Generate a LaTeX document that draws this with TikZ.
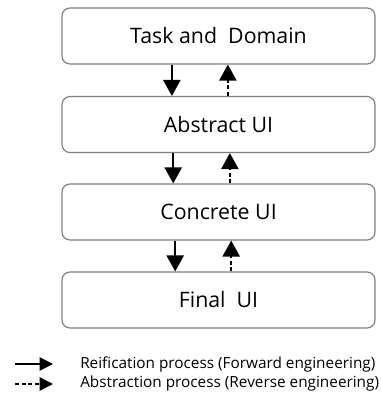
\documentclass[tikz,border=0pt]{standalone}
\usepackage{fontspec}
\setmainfont{Open Sans}
\usetikzlibrary{arrows.meta,positioning}
\tikzset{
  layerbox/.style = { shape=rectangle, rounded corners = 6pt, draw = black!50, line width = 0.9pt, minimum width = 234.75pt, minimum height = 42pt, font = \fontsize{16}{18}\selectfont },
  reify/.style = { -{Triangle[width=13pt,length=12pt]}, line width = 1.1pt, black },
  abstr/.style = { reify, dash pattern = on 3pt off 2pt },
  legendtext/.style = { anchor = west, inner sep = 0pt, font = \fontsize{11.5}{13}\selectfont }
}
\begin{document}
\begin{tikzpicture}
  \useasboundingbox (0,0) rectangle (285pt,297pt);
  % the four layers
  \node (nTaskDomain) [ layerbox ] at (163.9pt,270pt) {Task and~ Domain};
  \node (nAbstractUi) [ layerbox, below of = nTaskDomain, node distance = 66.4pt ] {Abstract UI};
  \node (nConcreteUi) [ layerbox, below of = nAbstractUi, node distance = 65.6pt ] {Concrete UI};
  \node (nFinalUi) [ layerbox, below of = nConcreteUi, node distance = 66pt ] {Final~ UI};
  % forward and reverse arrows between the layers
  \draw [reify] ([xshift=-35pt]nTaskDomain.south) -- ([xshift=-35pt]nAbstractUi.north);
  \draw [abstr] ([xshift=7pt]nAbstractUi.north) -- ([xshift=7pt]nTaskDomain.south);
  \draw [reify] ([xshift=-34pt]nAbstractUi.south) -- ([xshift=-34pt]nConcreteUi.north);
  \draw [abstr] ([xshift=8.5pt]nConcreteUi.north) -- ([xshift=8.5pt]nAbstractUi.south);
  \draw [reify] ([xshift=-32.5pt]nConcreteUi.south) -- ([xshift=-32.5pt]nFinalUi.north);
  \draw [abstr] ([xshift=9.5pt]nFinalUi.north) -- ([xshift=9.5pt]nConcreteUi.south);
  % legend
  \coordinate (cSolidStart) at (11.25pt,24pt);
  \coordinate (cSolidEnd) at (39.75pt,24pt);
  \coordinate (cDashStart) at (11.25pt,9pt);
  \coordinate (cDashEnd) at (39.75pt,9pt);
  \draw [reify, -{Triangle[width=10pt,length=10pt]}] (cSolidStart) -- (cSolidEnd);
  \draw [abstr, -{Triangle[width=10pt,length=10pt]}] (cDashStart) -- (cDashEnd);
  \node (nLegendReify) [ legendtext ] at (60pt,24pt) {Reification process (Forward engineering)};
  \node (nLegendAbstr) [ legendtext ] at (60pt,9pt) {Abstraction process (Reverse engineering)};
\end{tikzpicture}
\end{document}
